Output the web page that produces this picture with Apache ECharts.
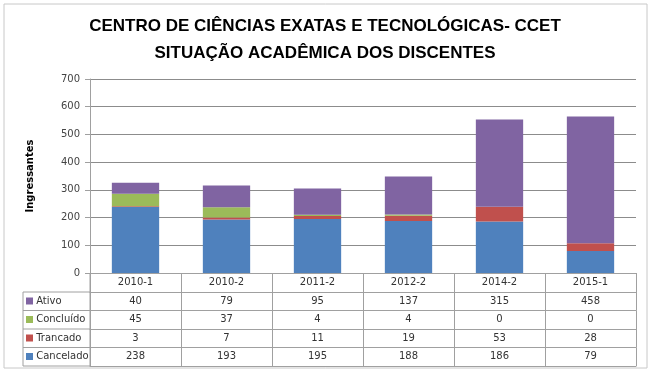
<!DOCTYPE html>
<html>
<head>
<meta charset="utf-8">
<script src="https://cdn.jsdelivr.net/npm/echarts@6/dist/echarts.min.js"></script>
<style>
html, body { margin: 0; padding: 0; background: #fff; }
#chart { width: 650px; height: 377px; }
</style>
</head>
<body>
<div id="chart"></div>
<script>
var categorias = ['2010-1', '2010-2', '2011-2', '2012-2', '2014-2', '2015-1'];
var ativo = [40, 79, 95, 137, 315, 458];
var concluido = [45, 37, 4, 4, 0, 0];
var trancado = [3, 7, 11, 19, 53, 28];
var cancelado = [238, 193, 195, 188, 186, 79];
var eixoY = { min: 0, max: 700, interval: 100 };

var chart = echarts.init(document.getElementById('chart'));

var gridLeft = 90, gridRight = 14, gridTop = 79, gridBottom = 104;
var tabelaLeft = 23;
var cabecalhoH = 19, linhaH = 18.5;
var corLinha = '#a0a0a0';
var fonte = 'DejaVu Sans';

// linhas da tabela (de cima para baixo), cor = cor da série
var linhas = [
    { nome: 'Ativo', cor: '#8064A2', dados: ativo },
    { nome: 'Concluído', cor: '#9BBB59', dados: concluido },
    { nome: 'Trancado', cor: '#C0504D', dados: trancado },
    { nome: 'Cancelado', cor: '#4F81BD', dados: cancelado }
];

function tick(len) {
    return { show: true, interval: 0, alignWithLabel: false, length: len, lineStyle: { color: corLinha } };
}

var xAxes = [{
    type: 'category',
    data: categorias,
    position: 'bottom',
    offset: 0,
    axisLine: { show: true, lineStyle: { color: corLinha } },
    axisTick: tick(cabecalhoH),
    axisLabel: { interval: 0, margin: 4, fontSize: 10, color: '#333', fontFamily: fonte }
}];

linhas.forEach(function (l, i) {
    xAxes.push({
        type: 'category',
        data: categorias,
        position: 'bottom',
        offset: cabecalhoH + i * linhaH,
        axisLine: { show: true, lineStyle: { color: corLinha } },
        axisTick: tick(linhaH),
        axisLabel: {
            interval: 0, margin: 4, fontSize: 10, color: '#333', fontFamily: fonte,
            formatter: function (v, idx) { return String(l.dados[idx]); }
        },
        name: '{sq|}{t| ' + l.nome + '}',
        nameLocation: 'start',
        nameGap: gridLeft - tabelaLeft - 3,
        nameTextStyle: {
            align: 'left',
            verticalAlign: 'top',
            padding: [4, 0, 0, 0],
            rich: {
                sq: { width: 7, height: 7, backgroundColor: l.cor },
                t: { fontSize: 10, color: '#333', fontFamily: fonte }
            }
        }
    });
});

// linha inferior da tabela
xAxes.push({
    type: 'category',
    data: categorias,
    position: 'bottom',
    offset: cabecalhoH + linhas.length * linhaH,
    axisLine: { show: true, lineStyle: { color: corLinha } },
    axisTick: { show: false },
    axisLabel: { show: false }
});

// bordas da coluna de legenda da tabela
var tabTop = 377 - gridBottom + cabecalhoH;
var tabBottom = tabTop + linhas.length * linhaH;
var bordas = [{
    type: 'line',
    shape: { x1: tabelaLeft, y1: tabTop, x2: tabelaLeft, y2: tabBottom },
    style: { stroke: corLinha, lineWidth: 1 }
}, {
    type: 'line',
    shape: { x1: gridLeft, y1: tabTop - cabecalhoH, x2: gridLeft, y2: tabBottom },
    style: { stroke: corLinha, lineWidth: 1 }
}];
for (var i = 0; i <= linhas.length; i++) {
    var y = tabTop + i * linhaH;
    bordas.push({
        type: 'line',
        shape: { x1: tabelaLeft, y1: y, x2: gridLeft, y2: y },
        style: { stroke: corLinha, lineWidth: 1 }
    });
}
bordas.push({
    type: 'rect',
    shape: { x: 4, y: 4, width: 643, height: 364 },
    style: { fill: 'none', stroke: '#c8c8c8', lineWidth: 1 }
});

function serie(nome, dados, cor) {
    return {
        name: nome,
        type: 'bar',
        stack: 'total',
        data: dados,
        barCategoryGap: '48%',
        itemStyle: { color: cor }
    };
}

var option = {
    animation: false,
    title: {
        text: 'CENTRO DE CIÊNCIAS EXATAS E TECNOLÓGICAS- CCET\nSITUAÇÃO ACADÊMICA DOS DISCENTES',
        left: 'center',
        top: 8,
        textStyle: {
            fontSize: 17,
            fontWeight: 'bold',
            color: '#000',
            lineHeight: 27,
            fontFamily: 'Liberation Sans'
        }
    },
    grid: { left: gridLeft, right: gridRight, top: gridTop, bottom: gridBottom },
    xAxis: xAxes,
    yAxis: {
        type: 'value',
        min: eixoY.min,
        max: eixoY.max,
        interval: eixoY.interval,
        name: 'Ingressantes',
        nameLocation: 'middle',
        nameGap: 55,
        nameTextStyle: { fontSize: 10, fontWeight: 'bold', color: '#000', fontFamily: fonte },
        axisLine: { show: true, lineStyle: { color: corLinha } },
        axisTick: { show: true, length: 5, lineStyle: { color: corLinha } },
        axisLabel: { margin: 10, fontSize: 10, color: '#444', fontFamily: fonte },
        splitLine: { lineStyle: { color: '#8c8c8c' } }
    },
    graphic: bordas,
    series: [
        serie('Cancelado', cancelado, '#4F81BD'),
        serie('Trancado', trancado, '#C0504D'),
        serie('Concluído', concluido, '#9BBB59'),
        serie('Ativo', ativo, '#8064A2')
    ]
};

chart.setOption(option);
</script>
</body>
</html>
